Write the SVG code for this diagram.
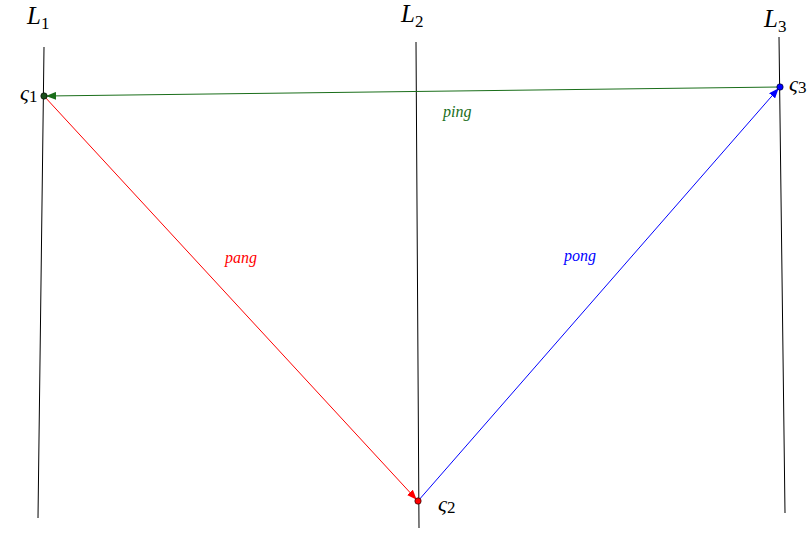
<svg xmlns="http://www.w3.org/2000/svg" width="811" height="533" viewBox="0 0 811 533">
<style>
.ln{stroke:#000;stroke-width:1;fill:none}
.t{font-family:"Liberation Serif",serif;fill:#000}
.big{font-size:25px;font-style:italic}
.sub{font-size:17px;font-style:normal}
.lab{font-size:16px;font-style:italic}
.sig{font-size:22px;font-style:italic}
.sigsub{font-size:17px;font-style:normal}
</style>
<defs>
<marker id="ag" viewBox="0 0 10 8" refX="9" refY="4" markerWidth="10" markerHeight="8" markerUnits="userSpaceOnUse" orient="auto"><path d="M0,0 L10,4 L0,8 Z" fill="#1a6e1a"/></marker>
<marker id="ar" viewBox="0 0 10 8" refX="9" refY="4" markerWidth="10" markerHeight="8" markerUnits="userSpaceOnUse" orient="auto"><path d="M0,0 L10,4 L0,8 Z" fill="#ff0000"/></marker>
<marker id="ab" viewBox="0 0 10 8" refX="9" refY="4" markerWidth="10" markerHeight="8" markerUnits="userSpaceOnUse" orient="auto"><path d="M0,0 L10,4 L0,8 Z" fill="#0000ff"/></marker>
</defs>
<g id="L1">
<line class="ln" x1="44" y1="47" x2="38" y2="518"/>
<text class="t big" x="27" y="24">L<tspan class="sub" dy="5">1</tspan></text>
</g>
<g id="L2">
<line class="ln" x1="416" y1="42" x2="419" y2="528"/>
<text class="t big" x="401" y="22">L<tspan class="sub" dy="5">2</tspan></text>
</g>
<g id="L3">
<line class="ln" x1="779" y1="37" x2="785" y2="513"/>
<text class="t big" x="764" y="27">L<tspan class="sub" dy="5">3</tspan></text>
</g>
<g id="connectors">
<line x1="780" y1="87" x2="47" y2="96" stroke="#1a6e1a" stroke-width="1" marker-end="url(#ag)"/>
<line x1="44" y1="96" x2="416" y2="499" stroke="#ff0000" stroke-width="1" marker-end="url(#ar)"/>
<line x1="418" y1="501" x2="778" y2="89" stroke="#0000ff" stroke-width="1" marker-end="url(#ab)"/>
<text class="t lab" x="443" y="117" style="fill:#1a6e1a">ping</text>
<text class="t lab" x="225" y="263" style="fill:#ff0000">pang</text>
<text class="t lab" x="564" y="261" style="fill:#0000ff">pong</text>
</g>
<g id="s1">
<circle cx="44" cy="96" r="3.2" fill="#1a4d1a" stroke="#000" stroke-width="0.6"/>
<text class="t sig" x="20" y="100">ς<tspan class="sigsub" dy="2">1</tspan></text>
</g>
<g id="s2">
<circle cx="418" cy="501" r="3.2" fill="#ff0000" stroke="#000" stroke-width="0.6"/>
<text class="t sig" x="438" y="511">ς<tspan class="sigsub" dy="2">2</tspan></text>
</g>
<g id="s3">
<circle cx="780" cy="87" r="3.2" fill="#0000ff" stroke="#000" stroke-width="0.6"/>
<text class="t sig" x="789" y="91">ς<tspan class="sigsub" dy="2">3</tspan></text>
</g>
</svg>
